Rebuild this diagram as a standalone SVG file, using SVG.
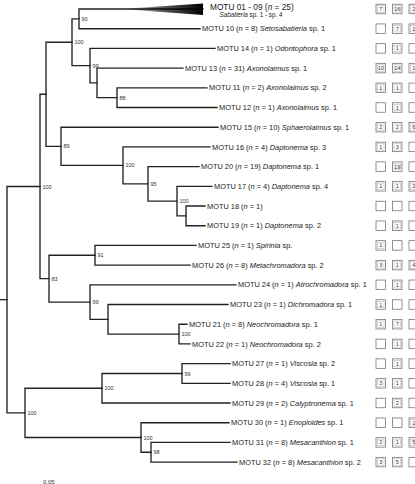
<svg xmlns="http://www.w3.org/2000/svg" width="415" height="484" viewBox="0 0 415 484">
<style>
.br{fill:none;stroke:#222;stroke-width:1.35;stroke-linecap:square}
.lb{font-family:"Liberation Sans",Arial,sans-serif;font-size:7.4px;fill:#222}
.bs{font-family:"Liberation Sans",Arial,sans-serif;font-size:5.5px;fill:#333}
.i{font-style:italic}
.bx{fill:#fff;stroke:#777;stroke-width:0.8}
.bi{fill:none;stroke:#aaa;stroke-width:0.5}
.bn{font-family:"Liberation Sans",Arial,sans-serif;font-size:5.5px;fill:#333;text-anchor:middle}
</style>
<defs>
<linearGradient id="wedge" x1="0" y1="0" x2="1" y2="0">
<stop offset="0" stop-color="#000" stop-opacity="0"/>
<stop offset="0.45" stop-color="#000" stop-opacity="0.6"/>
<stop offset="1" stop-color="#000"/>
</linearGradient>
</defs>
<rect width="415" height="484" fill="#fff"/>
<g id="connectors">
<path class="br" d="M0,299.65 H7"/>
<path class="br" d="M40,186.45 H7 V412.85 H25"/>
<path class="br" d="M46,94.25 H40 V278.65 H49"/>
<path class="br" d="M72,42.2 H46 V146.3 H61"/>
<path class="br" d="M79,18.85 H72 V65.6 H90"/>
<path class="br" d="M203,9 H79 V28.7 H200"/>
<path class="br" d="M215,48.4 H90 V82.9 H97"/>
<path class="br" d="M183,68.1 H97 V97.65 H117"/>
<path class="br" d="M207,87.8 H117 V107.5 H217"/>
<path class="br" d="M218,127.2 H61 V165.4 H123"/>
<path class="br" d="M210,146.9 H123 V183.85 H148"/>
<path class="br" d="M199,166.6 H148 V201.1 H177"/>
<path class="br" d="M212,186.3 H177 V215.85 H186"/>
<path class="br" d="M205,206 H186 V225.7 H205"/>
<path class="br" d="M95,255.25 H49 V302.05 H90"/>
<path class="br" d="M196,245.4 H95 V265.1 H190"/>
<path class="br" d="M236,284.8 H90 V319.3 H108"/>
<path class="br" d="M228,304.5 H108 V334.05 H179"/>
<path class="br" d="M187,324.2 H179 V343.9 H190"/>
<path class="br" d="M102,388.2 H25 V437.5 H141"/>
<path class="br" d="M182,373.45 H102 V403 H230"/>
<path class="br" d="M230,363.6 H182 V383.3 H230"/>
<path class="br" d="M229,422.7 H141 V452.25 H151"/>
<path class="br" d="M230,442.4 H151 V462.1 H237"/>
<polygon points="120,9 203,3.5 203,15" fill="url(#wedge)"/>
</g>
<g id="supports">
<g id="n90"><text class="bs" x="81.5" y="20.9">90</text></g>
<g id="nE"><text class="bs" x="74.5" y="44.2">100</text></g>
<g id="nH"><text class="bs" x="92.5" y="67.6">99</text></g>
<g id="nJ"><text class="bs" x="119.5" y="99.6">88</text></g>
<g id="nF"><text class="bs" x="63.5" y="148.3">89</text></g>
<g id="nK"><text class="bs" x="125.5" y="167.4">100</text></g>
<g id="nL"><text class="bs" x="150.5" y="185.9">95</text></g>
<g id="nM"><text class="bs" x="179.5" y="203.1">100</text></g>
<g id="nA"><text class="bs" x="42.5" y="188.5">100</text></g>
<g id="nO"><text class="bs" x="97.5" y="257.3">91</text></g>
<g id="nD"><text class="bs" x="51.5" y="280.7">83</text></g>
<g id="nP"><text class="bs" x="92.5" y="304">99</text></g>
<g id="nS"><text class="bs" x="181.5" y="336">100</text></g>
<g id="nV"><text class="bs" x="184.5" y="375.5">99</text></g>
<g id="nT"><text class="bs" x="104.5" y="390.2">100</text></g>
<g id="nB"><text class="bs" x="27.5" y="414.9">100</text></g>
<g id="nU"><text class="bs" x="143.5" y="439.5">100</text></g>
<g id="nW"><text class="bs" x="153.5" y="454.3">98</text></g>
</g>
<g id="leaves">
<g id="motu01-09"><text class="lb" x="210" y="9.5" style="font-size:8.3px">MOTU 01 - 09 (<tspan class="i">n</tspan> = 25)</text><text class="lb" x="251" y="16.8" style="font-size:6.3px" text-anchor="middle"><tspan class="i">Sabatieria</tspan> sp. 1 - sp. 4</text></g>
<g id="motu10"><text class="lb" x="202" y="31.3">MOTU 10 (<tspan class="i">n</tspan> = 8) <tspan class="i">Setosabatieria</tspan> sp. 1</text></g>
<g id="motu14"><text class="lb" x="217" y="51">MOTU 14 (<tspan class="i">n</tspan> = 1) <tspan class="i">Odontophora</tspan> sp. 1</text></g>
<g id="motu13"><text class="lb" x="185" y="70.7">MOTU 13 (<tspan class="i">n</tspan> = 31) <tspan class="i">Axonolaimus</tspan> sp. 1</text></g>
<g id="motu11"><text class="lb" x="209" y="90.4">MOTU 11 (<tspan class="i">n</tspan> = 2) <tspan class="i">Axonolaimus</tspan> sp. 2</text></g>
<g id="motu12"><text class="lb" x="219" y="110.1">MOTU 12 (<tspan class="i">n</tspan> = 1) <tspan class="i">Axonolaimus</tspan> sp. 1</text></g>
<g id="motu15"><text class="lb" x="220" y="129.8">MOTU 15 (<tspan class="i">n</tspan> = 10) <tspan class="i">Sphaerolaimus</tspan> sp. 1</text></g>
<g id="motu16"><text class="lb" x="212" y="149.5">MOTU 16 (<tspan class="i">n</tspan> = 4) <tspan class="i">Daptonema</tspan> sp. 3</text></g>
<g id="motu20"><text class="lb" x="201" y="169.2">MOTU 20 (<tspan class="i">n</tspan> = 19) <tspan class="i">Daptonema</tspan> sp. 1</text></g>
<g id="motu17"><text class="lb" x="214" y="188.9">MOTU 17 (<tspan class="i">n</tspan> = 4) <tspan class="i">Daptonema</tspan> sp. 4</text></g>
<g id="motu18"><text class="lb" x="207" y="208.6">MOTU 18 (<tspan class="i">n</tspan> = 1)</text></g>
<g id="motu19"><text class="lb" x="207" y="228.3">MOTU 19 (<tspan class="i">n</tspan> = 1) <tspan class="i">Daptonema</tspan> sp. 2</text></g>
<g id="motu25"><text class="lb" x="198" y="248">MOTU 25 (<tspan class="i">n</tspan> = 1) <tspan class="i">Spirinia</tspan> sp.</text></g>
<g id="motu26"><text class="lb" x="192" y="267.7">MOTU 26 (<tspan class="i">n</tspan> = 8) <tspan class="i">Metachromadora</tspan> sp. 2</text></g>
<g id="motu24"><text class="lb" x="238" y="287.4">MOTU 24 (<tspan class="i">n</tspan> = 1) <tspan class="i">Atrochromadora</tspan> sp. 1</text></g>
<g id="motu23"><text class="lb" x="230" y="307.1">MOTU 23 (<tspan class="i">n</tspan> = 1) <tspan class="i">Dichromadora</tspan> sp. 1</text></g>
<g id="motu21"><text class="lb" x="189" y="326.8">MOTU 21 (<tspan class="i">n</tspan> = 8) <tspan class="i">Neochromadora</tspan> sp. 1</text></g>
<g id="motu22"><text class="lb" x="192" y="346.5">MOTU 22 (<tspan class="i">n</tspan> = 1) <tspan class="i">Neochromadora</tspan> sp. 2</text></g>
<g id="motu27"><text class="lb" x="232" y="366.2">MOTU 27 (<tspan class="i">n</tspan> = 1) <tspan class="i">Viscosia</tspan> sp. 2</text></g>
<g id="motu28"><text class="lb" x="232" y="385.9">MOTU 28 (<tspan class="i">n</tspan> = 4) <tspan class="i">Viscosia</tspan> sp. 1</text></g>
<g id="motu29"><text class="lb" x="232" y="405.6">MOTU 29 (<tspan class="i">n</tspan> = 2) <tspan class="i">Calyptronema</tspan> sp. 1</text></g>
<g id="motu30"><text class="lb" x="231" y="425.3">MOTU 30 (<tspan class="i">n</tspan> = 1) <tspan class="i">Enoploides</tspan> sp. 1</text></g>
<g id="motu31"><text class="lb" x="232" y="445">MOTU 31 (<tspan class="i">n</tspan> = 8) <tspan class="i">Mesacanthion</tspan> sp. 1</text></g>
<g id="motu32"><text class="lb" x="239" y="464.7">MOTU 32 (<tspan class="i">n</tspan> = 8) <tspan class="i">Mesacanthion</tspan> sp. 2</text></g>
</g>
<g id="counts">
<g id="r0"><rect class="bx" x="376" y="4.25" width="9.5" height="9.5"/><rect class="bi" x="377.5" y="5.75" width="6.5" height="6.5"/><text class="bn" x="380.75" y="11">7</text><rect class="bx" x="392.5" y="4.25" width="9.5" height="9.5"/><rect class="bi" x="394" y="5.75" width="6.5" height="6.5"/><text class="bn" x="397.25" y="11">16</text><rect class="bx" x="409" y="4.25" width="9.5" height="9.5"/><rect class="bi" x="410.5" y="5.75" width="6.5" height="6.5"/><text class="bn" x="413.75" y="11">2</text></g>
<g id="r1"><rect class="bx" x="376" y="23.95" width="9.5" height="9.5"/><rect class="bx" x="392.5" y="23.95" width="9.5" height="9.5"/><rect class="bi" x="394" y="25.45" width="6.5" height="6.5"/><text class="bn" x="397.25" y="30.7">7</text><rect class="bx" x="409" y="23.95" width="9.5" height="9.5"/><rect class="bi" x="410.5" y="25.45" width="6.5" height="6.5"/><text class="bn" x="413.75" y="30.7">1</text></g>
<g id="r2"><rect class="bx" x="376" y="43.65" width="9.5" height="9.5"/><rect class="bx" x="392.5" y="43.65" width="9.5" height="9.5"/><rect class="bi" x="394" y="45.15" width="6.5" height="6.5"/><text class="bn" x="397.25" y="50.4">1</text><rect class="bx" x="409" y="43.65" width="9.5" height="9.5"/></g>
<g id="r3"><rect class="bx" x="376" y="63.35" width="9.5" height="9.5"/><rect class="bi" x="377.5" y="64.85" width="6.5" height="6.5"/><text class="bn" x="380.75" y="70.1">10</text><rect class="bx" x="392.5" y="63.35" width="9.5" height="9.5"/><rect class="bi" x="394" y="64.85" width="6.5" height="6.5"/><text class="bn" x="397.25" y="70.1">14</text><rect class="bx" x="409" y="63.35" width="9.5" height="9.5"/><rect class="bi" x="410.5" y="64.85" width="6.5" height="6.5"/><text class="bn" x="413.75" y="70.1">1</text></g>
<g id="r4"><rect class="bx" x="376" y="83.05" width="9.5" height="9.5"/><rect class="bi" x="377.5" y="84.55" width="6.5" height="6.5"/><text class="bn" x="380.75" y="89.8">1</text><rect class="bx" x="392.5" y="83.05" width="9.5" height="9.5"/><rect class="bi" x="394" y="84.55" width="6.5" height="6.5"/><text class="bn" x="397.25" y="89.8">1</text><rect class="bx" x="409" y="83.05" width="9.5" height="9.5"/></g>
<g id="r5"><rect class="bx" x="376" y="102.75" width="9.5" height="9.5"/><rect class="bx" x="392.5" y="102.75" width="9.5" height="9.5"/><rect class="bi" x="394" y="104.25" width="6.5" height="6.5"/><text class="bn" x="397.25" y="109.5">1</text><rect class="bx" x="409" y="102.75" width="9.5" height="9.5"/></g>
<g id="r6"><rect class="bx" x="376" y="122.45" width="9.5" height="9.5"/><rect class="bi" x="377.5" y="123.95" width="6.5" height="6.5"/><text class="bn" x="380.75" y="129.2">2</text><rect class="bx" x="392.5" y="122.45" width="9.5" height="9.5"/><rect class="bi" x="394" y="123.95" width="6.5" height="6.5"/><text class="bn" x="397.25" y="129.2">2</text><rect class="bx" x="409" y="122.45" width="9.5" height="9.5"/><rect class="bi" x="410.5" y="123.95" width="6.5" height="6.5"/><text class="bn" x="413.75" y="129.2">6</text></g>
<g id="r7"><rect class="bx" x="376" y="142.15" width="9.5" height="9.5"/><rect class="bi" x="377.5" y="143.65" width="6.5" height="6.5"/><text class="bn" x="380.75" y="148.9">1</text><rect class="bx" x="392.5" y="142.15" width="9.5" height="9.5"/><rect class="bi" x="394" y="143.65" width="6.5" height="6.5"/><text class="bn" x="397.25" y="148.9">3</text><rect class="bx" x="409" y="142.15" width="9.5" height="9.5"/></g>
<g id="r8"><rect class="bx" x="376" y="161.85" width="9.5" height="9.5"/><rect class="bx" x="392.5" y="161.85" width="9.5" height="9.5"/><rect class="bi" x="394" y="163.35" width="6.5" height="6.5"/><text class="bn" x="397.25" y="168.6">19</text><rect class="bx" x="409" y="161.85" width="9.5" height="9.5"/></g>
<g id="r9"><rect class="bx" x="376" y="181.55" width="9.5" height="9.5"/><rect class="bi" x="377.5" y="183.05" width="6.5" height="6.5"/><text class="bn" x="380.75" y="188.3">1</text><rect class="bx" x="392.5" y="181.55" width="9.5" height="9.5"/><rect class="bi" x="394" y="183.05" width="6.5" height="6.5"/><text class="bn" x="397.25" y="188.3">1</text><rect class="bx" x="409" y="181.55" width="9.5" height="9.5"/><rect class="bi" x="410.5" y="183.05" width="6.5" height="6.5"/><text class="bn" x="413.75" y="188.3">2</text></g>
<g id="r10"><rect class="bx" x="376" y="201.25" width="9.5" height="9.5"/><rect class="bx" x="392.5" y="201.25" width="9.5" height="9.5"/><rect class="bx" x="409" y="201.25" width="9.5" height="9.5"/></g>
<g id="r11"><rect class="bx" x="376" y="220.95" width="9.5" height="9.5"/><rect class="bx" x="392.5" y="220.95" width="9.5" height="9.5"/><rect class="bi" x="394" y="222.45" width="6.5" height="6.5"/><text class="bn" x="397.25" y="227.7">1</text><rect class="bx" x="409" y="220.95" width="9.5" height="9.5"/></g>
<g id="r12"><rect class="bx" x="376" y="240.65" width="9.5" height="9.5"/><rect class="bi" x="377.5" y="242.15" width="6.5" height="6.5"/><text class="bn" x="380.75" y="247.4">1</text><rect class="bx" x="392.5" y="240.65" width="9.5" height="9.5"/><rect class="bx" x="409" y="240.65" width="9.5" height="9.5"/></g>
<g id="r13"><rect class="bx" x="376" y="260.35" width="9.5" height="9.5"/><rect class="bi" x="377.5" y="261.85" width="6.5" height="6.5"/><text class="bn" x="380.75" y="267.1">3</text><rect class="bx" x="392.5" y="260.35" width="9.5" height="9.5"/><rect class="bi" x="394" y="261.85" width="6.5" height="6.5"/><text class="bn" x="397.25" y="267.1">1</text><rect class="bx" x="409" y="260.35" width="9.5" height="9.5"/><rect class="bi" x="410.5" y="261.85" width="6.5" height="6.5"/><text class="bn" x="413.75" y="267.1">4</text></g>
<g id="r14"><rect class="bx" x="376" y="280.05" width="9.5" height="9.5"/><rect class="bx" x="392.5" y="280.05" width="9.5" height="9.5"/><rect class="bi" x="394" y="281.55" width="6.5" height="6.5"/><text class="bn" x="397.25" y="286.8">1</text><rect class="bx" x="409" y="280.05" width="9.5" height="9.5"/></g>
<g id="r15"><rect class="bx" x="376" y="299.75" width="9.5" height="9.5"/><rect class="bi" x="377.5" y="301.25" width="6.5" height="6.5"/><text class="bn" x="380.75" y="306.5">1</text><rect class="bx" x="392.5" y="299.75" width="9.5" height="9.5"/><rect class="bx" x="409" y="299.75" width="9.5" height="9.5"/></g>
<g id="r16"><rect class="bx" x="376" y="319.45" width="9.5" height="9.5"/><rect class="bi" x="377.5" y="320.95" width="6.5" height="6.5"/><text class="bn" x="380.75" y="326.2">1</text><rect class="bx" x="392.5" y="319.45" width="9.5" height="9.5"/><rect class="bi" x="394" y="320.95" width="6.5" height="6.5"/><text class="bn" x="397.25" y="326.2">7</text><rect class="bx" x="409" y="319.45" width="9.5" height="9.5"/></g>
<g id="r17"><rect class="bx" x="376" y="339.15" width="9.5" height="9.5"/><rect class="bx" x="392.5" y="339.15" width="9.5" height="9.5"/><rect class="bi" x="394" y="340.65" width="6.5" height="6.5"/><text class="bn" x="397.25" y="345.9">1</text><rect class="bx" x="409" y="339.15" width="9.5" height="9.5"/></g>
<g id="r18"><rect class="bx" x="376" y="358.85" width="9.5" height="9.5"/><rect class="bx" x="392.5" y="358.85" width="9.5" height="9.5"/><rect class="bi" x="394" y="360.35" width="6.5" height="6.5"/><text class="bn" x="397.25" y="365.6">1</text><rect class="bx" x="409" y="358.85" width="9.5" height="9.5"/></g>
<g id="r19"><rect class="bx" x="376" y="378.55" width="9.5" height="9.5"/><rect class="bi" x="377.5" y="380.05" width="6.5" height="6.5"/><text class="bn" x="380.75" y="385.3">3</text><rect class="bx" x="392.5" y="378.55" width="9.5" height="9.5"/><rect class="bi" x="394" y="380.05" width="6.5" height="6.5"/><text class="bn" x="397.25" y="385.3">1</text><rect class="bx" x="409" y="378.55" width="9.5" height="9.5"/></g>
<g id="r20"><rect class="bx" x="376" y="398.25" width="9.5" height="9.5"/><rect class="bx" x="392.5" y="398.25" width="9.5" height="9.5"/><rect class="bi" x="394" y="399.75" width="6.5" height="6.5"/><text class="bn" x="397.25" y="405">2</text><rect class="bx" x="409" y="398.25" width="9.5" height="9.5"/></g>
<g id="r21"><rect class="bx" x="376" y="417.95" width="9.5" height="9.5"/><rect class="bx" x="392.5" y="417.95" width="9.5" height="9.5"/><rect class="bx" x="409" y="417.95" width="9.5" height="9.5"/><rect class="bi" x="410.5" y="419.45" width="6.5" height="6.5"/><text class="bn" x="413.75" y="424.7">1</text></g>
<g id="r22"><rect class="bx" x="376" y="437.65" width="9.5" height="9.5"/><rect class="bi" x="377.5" y="439.15" width="6.5" height="6.5"/><text class="bn" x="380.75" y="444.4">2</text><rect class="bx" x="392.5" y="437.65" width="9.5" height="9.5"/><rect class="bi" x="394" y="439.15" width="6.5" height="6.5"/><text class="bn" x="397.25" y="444.4">1</text><rect class="bx" x="409" y="437.65" width="9.5" height="9.5"/><rect class="bi" x="410.5" y="439.15" width="6.5" height="6.5"/><text class="bn" x="413.75" y="444.4">5</text></g>
<g id="r23"><rect class="bx" x="376" y="457.35" width="9.5" height="9.5"/><rect class="bi" x="377.5" y="458.85" width="6.5" height="6.5"/><text class="bn" x="380.75" y="464.1">3</text><rect class="bx" x="392.5" y="457.35" width="9.5" height="9.5"/><rect class="bi" x="394" y="458.85" width="6.5" height="6.5"/><text class="bn" x="397.25" y="464.1">5</text><rect class="bx" x="409" y="457.35" width="9.5" height="9.5"/></g>
</g>
<g id="scale"><text class="bs" x="43" y="483.5" style="font-size:6px">0.05</text></g>
</svg>
